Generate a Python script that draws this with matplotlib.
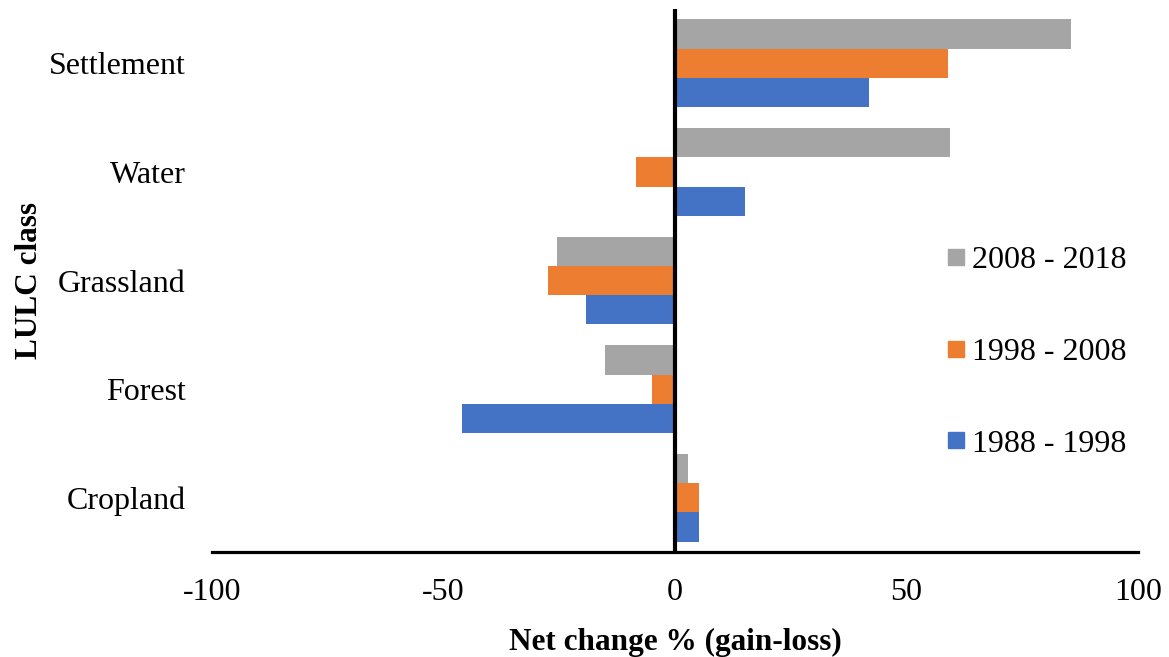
import matplotlib

matplotlib.use("Agg")

import matplotlib.pyplot as plt
from matplotlib.lines import Line2D
import numpy as np

plt.rcParams["font.family"] = ["Liberation Serif", "DejaVu Serif"]
plt.rcParams["axes.unicode_minus"] = False

# land use / land cover classes, bottom to top
classes = ["Cropland", "Forest", "Grassland", "Water", "Settlement"]
periods = ["1988 - 1998", "1998 - 2008", "2008 - 2018"]

change_1988_1998 = [5.2, -46.0, -19.3, 15.2, 41.9]
change_1998_2008 = [5.2, -4.9, -27.5, -8.5, 58.9]
change_2008_2018 = [2.8, -15.2, -25.4, 59.4, 85.6]

colors = ["#4472C4", "#ED7D31", "#A5A5A5"]

fig = plt.figure(figsize=(11.69, 6.57), dpi=100)
ax = fig.add_axes([0.1814, 0.1598, 0.7921, 0.8265])

y = np.arange(len(classes))
h = 0.269
series = [change_1988_1998, change_1998_2008, change_2008_2018]
for k, (vals, col) in enumerate(zip(series, colors)):
    ax.barh(y + (k - 1) * h, vals, height=h, color=col, zorder=2)

ax.axvline(0, color="black", lw=3, zorder=3)

ax.set_xlim(-100, 100)
ax.set_ylim(-0.5, len(classes) - 0.5)
ax.set_xticks([-100, -50, 0, 50, 100])
ax.set_yticks(y)
ax.set_yticklabels(classes)

for side in ["top", "right", "left"]:
    ax.spines[side].set_visible(False)
ax.spines["bottom"].set_linewidth(2.3)
ax.spines["bottom"].set_color("black")

ax.tick_params(axis="x", length=0, pad=19, labelsize=23)
ax.tick_params(axis="y", length=0, pad=19, labelsize=23)

ax.set_xlabel("Net change % (gain-loss)", fontsize=22.5, fontweight="bold")
ax.xaxis.set_label_coords(0.5, -0.14)
ax.set_ylabel("LULC class", fontsize=22.5, fontweight="bold")
ax.yaxis.set_label_coords(-0.181, 0.5)

# legend lists the newest period first
handles = [
    Line2D([], [], marker="s", linestyle="none", markersize=11.5,
           markerfacecolor=colors[k], markeredgecolor=colors[k])
    for k in (2, 1, 0)
]
labels = [periods[k] for k in (2, 1, 0)]
ax.legend(handles, labels, loc="center left", bbox_to_anchor=(0.795, 0.368),
          frameon=False, fontsize=23, handlelength=0.5, handletextpad=0.25,
          labelspacing=1.95, borderpad=0, borderaxespad=0)

fig.savefig("out.png", dpi=100)
